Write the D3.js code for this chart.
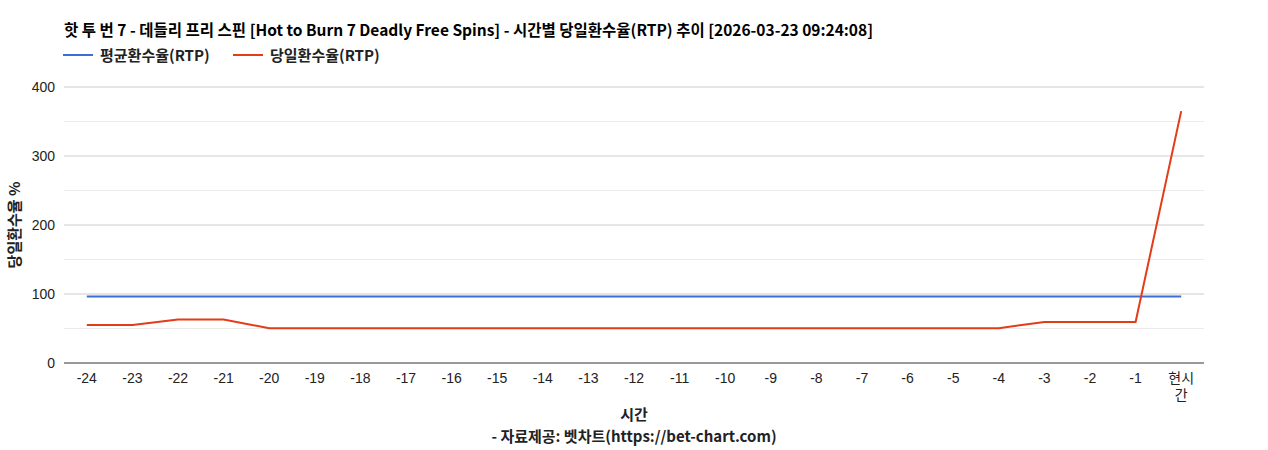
<!DOCTYPE html>
<html>
<head>
<meta charset="utf-8">
<script src="https://cdn.jsdelivr.net/npm/d3@7"></script>
<style>
  body { margin: 0; background: #fff; }
  text { font-family: "Liberation Sans", Arial, "Noto Sans CJK KR", sans-serif; }
  .bold { font-family: "Noto Sans CJK KR", "Liberation Sans", sans-serif; font-weight: bold; }
</style>
</head>
<body>
<div id="chart"></div>
<script>
// hours before now, last one is the current hour
const hours = ["-24", "-23", "-22", "-21", "-20", "-19", "-18", "-17", "-16", "-15", "-14", "-13",
  "-12", "-11", "-10", "-9", "-8", "-7", "-6", "-5", "-4", "-3", "-2", "-1", "현시간"];
const avgRtp = [96.3, 96.3, 96.3, 96.3, 96.3, 96.3, 96.3, 96.3, 96.3, 96.3, 96.3, 96.3,
  96.3, 96.3, 96.3, 96.3, 96.3, 96.3, 96.3, 96.3, 96.3, 96.3, 96.3, 96.3, 96.3];
const dayRtp = [55, 55, 63, 63, 50.5, 50.5, 50.5, 50.5, 50.5, 50.5, 50.5, 50.5,
  50.5, 50.5, 50.5, 50.5, 50.5, 50.5, 50.5, 50.5, 50.5, 59.5, 59.5, 59.5, 365];
const yTicks = [0, 100, 200, 300, 400];
const yMinor = [50, 150, 250, 350];

const titleText = "핫 투 번 7 - 데들리 프리 스핀 [Hot to Burn 7 Deadly Free Spins] - 시간별 당일환수율(RTP) 추이 [2026-03-23 09:24:08]";
const seriesNames = ["평균환수율(RTP)", "당일환수율(RTP)"];
const colors = ["#3a6fd8", "#e23c18"];

const width = 1268, height = 450;
const margin = { top: 87, right: 64, bottom: 87, left: 64 };

const svg = d3.select("#chart").append("svg")
  .attr("width", width)
  .attr("height", height);

const x = d3.scalePoint()
  .domain(hours)
  .range([margin.left, width - margin.right])
  .padding(0.5);

const y = d3.scaleLinear()
  .domain([0, 400])
  .range([height - margin.bottom, margin.top]);

// gridlines
svg.append("g").selectAll("line")
  .data(yMinor)
  .enter().append("line")
  .attr("x1", margin.left).attr("x2", width - margin.right)
  .attr("y1", d => y(d)).attr("y2", d => y(d))
  .attr("stroke", "#ebebeb");

svg.append("g").selectAll("line")
  .data(yTicks.slice(1))
  .enter().append("line")
  .attr("x1", margin.left).attr("x2", width - margin.right)
  .attr("y1", d => y(d)).attr("y2", d => y(d))
  .attr("stroke", "#cccccc");

// y tick labels
svg.append("g").selectAll("text")
  .data(yTicks)
  .enter().append("text")
  .attr("x", margin.left - 9)
  .attr("y", d => y(d) + 5)
  .attr("text-anchor", "end")
  .attr("font-size", 14)
  .attr("fill", "#222")
  .text(d => d);

// x tick labels, 현시간 wraps onto two lines
const xl = svg.append("g").selectAll("text")
  .data(hours)
  .enter().append("text")
  .attr("x", d => x(d))
  .attr("y", height - margin.bottom + 20)
  .attr("text-anchor", "middle")
  .attr("font-size", 14)
  .attr("fill", "#222");
xl.each(function(d) {
  const t = d3.select(this);
  if (d === "현시간") {
    t.append("tspan").attr("x", x(d)).text("현시");
    t.append("tspan").attr("x", x(d)).attr("dy", 17).text("간");
  } else {
    t.text(d);
  }
});

// lines
const line = d3.line()
  .x((d, i) => x(hours[i]))
  .y(d => y(d));

[avgRtp, dayRtp].forEach((s, i) => {
  svg.append("path")
    .datum(s)
    .attr("fill", "none")
    .attr("stroke", colors[i])
    .attr("stroke-width", 2)
    .attr("d", line);
});

// baseline
svg.append("line")
  .attr("x1", margin.left).attr("x2", width - margin.right)
  .attr("y1", y(0)).attr("y2", y(0))
  .attr("stroke", "#333");

// title
svg.append("text")
  .attr("class", "bold")
  .attr("x", margin.left)
  .attr("y", 36)
  .attr("font-size", 15.5)
  .attr("fill", "#000")
  .text(titleText);

// legend
const legendX = [63, 233];
seriesNames.forEach((name, i) => {
  const g = svg.append("g").attr("transform", `translate(${legendX[i]}, 55)`);
  g.append("line")
    .attr("x1", 0).attr("x2", 30)
    .attr("stroke", colors[i])
    .attr("stroke-width", 2);
  g.append("text")
    .attr("class", "bold")
    .attr("x", 37)
    .attr("y", 5.5)
    .attr("font-size", 15)
    .attr("fill", "#222")
    .text(name);
});

// axis titles
svg.append("text")
  .attr("class", "bold")
  .attr("transform", `translate(20, ${(y(0) + y(400)) / 2}) rotate(-90)`)
  .attr("text-anchor", "middle")
  .attr("font-size", 15)
  .attr("fill", "#222")
  .text("당일환수율 %");

svg.append("text")
  .attr("class", "bold")
  .attr("x", (margin.left + width - margin.right) / 2)
  .attr("y", 420)
  .attr("text-anchor", "middle")
  .attr("font-size", 15)
  .attr("fill", "#222")
  .text("시간");

svg.append("text")
  .attr("class", "bold")
  .attr("x", (margin.left + width - margin.right) / 2)
  .attr("y", 442)
  .attr("text-anchor", "middle")
  .attr("font-size", 15)
  .attr("fill", "#222")
  .text("- 자료제공: 벳차트(https://bet-chart.com)");
</script>
</body>
</html>
